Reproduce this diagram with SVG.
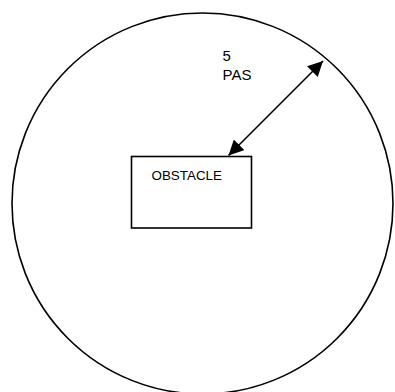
<svg xmlns="http://www.w3.org/2000/svg" width="395" height="392" viewBox="0 0 395 392">
<style>
.shape{fill:none;stroke:#000;stroke-width:1.6}
.lbl{font-family:"Liberation Sans",Arial,sans-serif;fill:#000}
.conn{stroke:#000;stroke-width:1.6;fill:none}
</style>
<defs>
<marker id="ah" markerWidth="15" markerHeight="15" refX="15" refY="7.5" orient="auto-start-reverse" markerUnits="userSpaceOnUse" viewBox="0 0 15 15">
<path d="M0,0 L15,7.5 L0,15 Z" fill="#000"/>
</marker>
</defs>
<rect width="395" height="392" fill="#fff"/>
<g id="zone">
<circle class="shape" cx="202.5" cy="203.5" r="190.5"/>
</g>
<g id="obstacle">
<rect class="shape" x="131.5" y="156.5" width="120" height="71.5"/>
<text class="lbl" x="151.5" y="180" font-size="13.4">OBSTACLE</text>
</g>
<g id="label-5pas">
<text class="lbl" x="222.5" y="61" font-size="15">5</text>
<text class="lbl" x="222.5" y="80" font-size="15">PAS</text>
</g>
<g id="connectors">
<line class="conn" x1="228.5" y1="155.5" x2="323" y2="61" marker-start="url(#ah)" marker-end="url(#ah)"/>
</g>
</svg>
